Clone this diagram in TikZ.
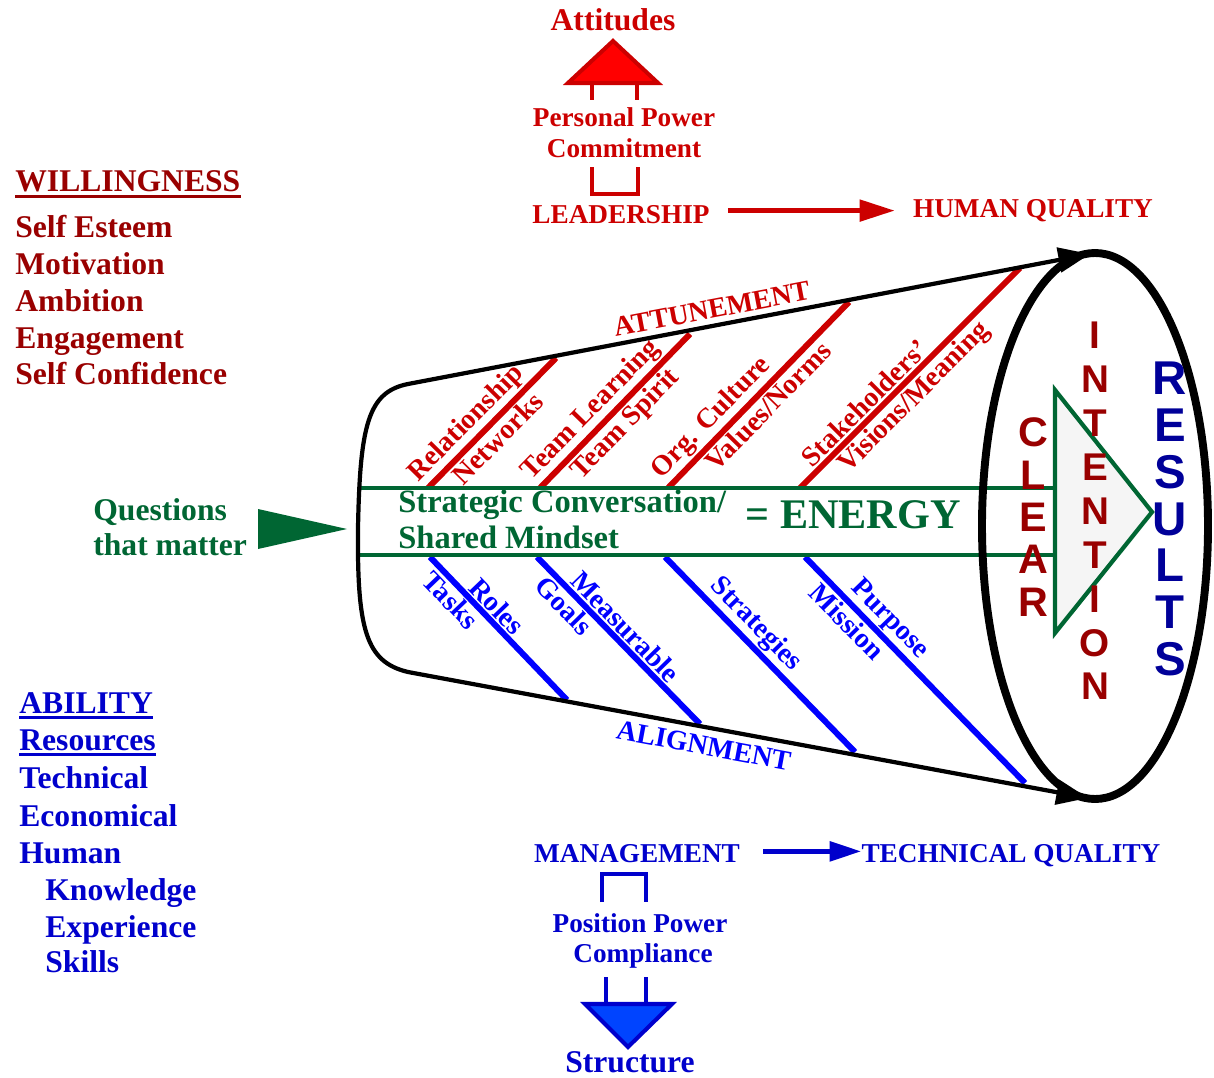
\documentclass[tikz,border=0pt]{standalone}
\usepackage{fontspec}
\setmainfont{Liberation Serif}
\newfontfamily\arialfont{Liberation Sans}
\usetikzlibrary{arrows.meta}
\definecolor{wred}{HTML}{990000}
\definecolor{lred}{HTML}{CC0000}
\definecolor{fred}{HTML}{FF0000}
\definecolor{qgreen}{HTML}{006633}
\definecolor{lblue}{HTML}{0000FF}
\definecolor{mblue}{HTML}{0000CC}
\definecolor{nblue}{HTML}{000099}
\definecolor{sblue}{HTML}{0044FF}
\definecolor{tgray}{HTML}{F5F5F5}
\begin{document}
\begin{tikzpicture}[x=0.02cm, y=-0.02cm,
    txt/.style={font=\bfseries\fontsize{18}{21}\selectfont, inner sep=0pt, anchor=base west},
    ctxt/.style={font=\bfseries\fontsize{18}{21}\selectfont, inner sep=0pt, anchor=base},
    smalltxt/.style={font=\bfseries\fontsize{15.5}{18}\selectfont, inner sep=0pt, anchor=base},
    lbl/.style={font=\bfseries\fontsize{16}{19}\selectfont, inner sep=1pt},
    redbar/.style={lred, line width=3.4pt},
    bluebar/.style={lblue, line width=3.4pt},
    band/.style={qgreen, line width=2.8pt},
    cone/.style={line width=2.4pt, {Triangle[length=18pt,width=14pt]}-{Triangle[length=18pt,width=14pt]}},
    rim/.style={line width=4.5pt},
    stem/.style={line width=2.3pt},
    redarrow/.style={lred, line width=2.8pt, -{Triangle[length=20pt,width=12pt]}},
    bluearrow/.style={mblue, line width=2.8pt, -{Triangle[length=18pt,width=11pt]}}]
\useasboundingbox (0,0) rectangle (1214,1078);

% willingness
\node[txt, wred] (will) at (15,192) {WILLINGNESS};
\draw[wred, line width=1.8pt] ([yshift=-2.5pt]will.base west) -- ([yshift=-2.5pt]will.base east);
\node[txt, wred] (w1) at (15,237) {Self Esteem};
\node[txt, wred] (w2) at (15,274) {Motivation};
\node[txt, wred] (w3) at (15,311) {Ambition};
\node[txt, wred] (w4) at (15,348) {Engagement};
\node[txt, wred] (w5) at (15,384) {Self Confidence};

% ability
\node[txt, mblue] (abil) at (19,713) {ABILITY};
\draw[mblue, line width=1.8pt] ([yshift=-2.5pt]abil.base west) -- ([yshift=-2.5pt]abil.base east);
\node[txt, mblue] (res) at (19,750) {Resources};
\draw[mblue, line width=1.8pt] ([yshift=-2.5pt]res.base west) -- ([yshift=-2.5pt]res.base east);
\node[txt, mblue] (a1) at (19,788) {Technical};
\node[txt, mblue] (a2) at (19,826) {Economical};
\node[txt, mblue] (a3) at (19,863) {Human};
\node[txt, mblue] (a4) at (45,900) {Knowledge};
\node[txt, mblue] (a5) at (45,937) {Experience};
\node[txt, mblue] (a6) at (45,972) {Skills};

% leadership
\node[ctxt, lred] (att) at (613,31) {Attitudes};
\coordinate (ra) at (568,83);
\coordinate (rb) at (613,41);
\coordinate (rc) at (658,83);
\filldraw[fill=fred, draw=lred, line width=2.3pt, line join=miter] (ra) -- (rb) -- (rc) -- cycle;
\draw[stem, lred] (592,83) -- (592,100);
\draw[stem, lred] (637,83) -- (637,100);
\node[smalltxt, lred] (ppow) at (624,127) {Personal Power};
\node[smalltxt, lred] (comm) at (624,157) {Commitment};
\draw[stem, lred] (592,167) -- (592,194) -- (638,194) -- (638,167);
\node[smalltxt, lred] (lead) at (621,223) {LEADERSHIP};
\node[smalltxt, lred] (hq) at (1033,217) {HUMAN QUALITY};
\draw[redarrow] ([xshift=0.36cm, yshift=2pt]lead.east) -- ([xshift=-0.36cm, yshift=2pt]lead.east -| hq.west);

% management
\node[smalltxt, mblue] (mgmt) at (637,862) {MANAGEMENT};
\node[smalltxt, mblue] (tq) at (1011,862) {TECHNICAL QUALITY};
\draw[bluearrow] ([xshift=0.46cm, yshift=1pt]mgmt.east) -- ([yshift=1pt]mgmt.east -| tq.west);
\draw[stem, mblue] (602,902) -- (602,874) -- (646,874) -- (646,902);
\node[smalltxt, mblue] (ppos) at (640,932) {Position Power};
\node[smalltxt, mblue] (compl) at (643,962) {Compliance};
\draw[stem, mblue] (606,977) -- (606,1004);
\draw[stem, mblue] (646,977) -- (646,1004);
\coordinate (ba) at (585,1004);
\coordinate (bb) at (628,1047);
\coordinate (bc) at (672,1004);
\filldraw[fill=sblue, draw=mblue, line width=2.3pt, line join=miter] (ba) -- (bb) -- (bc) -- cycle;
\node[ctxt, mblue] (struct) at (630,1072) {Structure};

% questions
\node[txt, qgreen] (q1) at (93,520) {Questions};
\node[txt, qgreen] (q2) at (93,555) {that matter};
\coordinate (qa) at (258,509);
\coordinate (qtip) at (347,529);
\coordinate (qb) at (258,549);
\fill[qgreen] (qa) -- (qtip) -- (qb) -- cycle;

% red bars
\coordinate (r1a) at (428,488); \coordinate (r1b) at (556,358);
\coordinate (r2a) at (540,488); \coordinate (r2b) at (690,334);
\coordinate (r3a) at (668,488); \coordinate (r3b) at (849,302);
\coordinate (r4a) at (800,488); \coordinate (r4b) at (1020,268);
\draw[redbar] (r1a) -- (r1b) node[lbl, lred, sloped, above, pos=0.40] (rel) {Relationship}
  node[lbl, lred, sloped, below, pos=0.46] (netw) {Networks};
\draw[redbar] (r2a) -- (r2b) node[lbl, lred, sloped, above, pos=0.425] (tlearn) {Team Learning}
  node[lbl, lred, sloped, below, pos=0.49] (tspirit) {Team Spirit};
\draw[redbar] (r3a) -- (r3b) node[lbl, lred, sloped, above, pos=0.31] (orgc) {Org. Culture}
  node[lbl, lred, sloped, below, pos=0.495] (vals) {Values/Norms};
\draw[redbar] (r4a) -- (r4b) node[lbl, lred, sloped, above, pos=0.34] (stake) {Stakeholders'}
  node[lbl, lred, sloped, below, pos=0.465] (vis) {Visions/Meaning};

% blue bars
\coordinate (b1a) at (430,557); \coordinate (b1b) at (567,700);
\coordinate (b2a) at (537,557); \coordinate (b2b) at (700,724);
\coordinate (b3a) at (665,557); \coordinate (b3b) at (855,752);
\coordinate (b4a) at (805,557); \coordinate (b4b) at (1025,783);
\draw[bluebar] (b1a) -- (b1b) node[lbl, lblue, sloped, below, pos=0.23] (tasks) {Tasks}
  node[lbl, lblue, sloped, above, pos=0.415] (roles) {Roles};
\draw[bluebar] (b2a) -- (b2b) node[lbl, lblue, sloped, below, pos=0.23] (goals) {Goals}
  node[lbl, lblue, sloped, above, pos=0.48] (meas) {Measurable};
\draw[bluebar] (b3a) -- (b3b) node[lbl, lblue, sloped, above, pos=0.41] (strat) {Strategies};
\draw[bluebar] (b4a) -- (b4b) node[lbl, lblue, sloped, below, pos=0.24] (miss) {Mission}
  node[lbl, lblue, sloped, above, pos=0.33] (purp) {Purpose};

% energy band
\coordinate (g1l) at (359,488); \coordinate (g1r) at (1055,488);
\coordinate (g2l) at (359,555); \coordinate (g2r) at (1055,555);
\draw[band] (g1l) -- (g1r);
\draw[band] (g2l) -- (g2r);
\node[txt, qgreen, font=\bfseries\fontsize{18.5}{21}\selectfont] (sc1) at (398,512) {Strategic Conversation/};
\node[txt, qgreen, font=\bfseries\fontsize{18.5}{21}\selectfont] (sc2) at (398,548) {Shared Mindset};
\node[ctxt, qgreen, font=\bfseries\fontsize{24}{28}\selectfont] (energy) at (853,528) {= ENERGY};

% cone
\coordinate (ttip) at (1090,254);
\coordinate (tl) at (408,384);
\coordinate (lm) at (358,528);
\coordinate (bl) at (408,672);
\coordinate (btip) at (1088,798);
\draw[cone] (ttip) -- node[lbl, lred, sloped, above=2pt, pos=0.55] (attune) {ATTUNEMENT} (tl)
  .. controls (368,392) and (360,425) .. (lm)
  .. controls (357,630) and (366,662) .. (bl)
  -- node[lbl, lblue, sloped, below=3pt, pos=0.44] (alignm) {ALIGNMENT} (btip);
\draw[rim] (1095,526) ellipse [x radius=113, y radius=273];

% clear intention
\coordinate (ta) at (1055,390);
\coordinate (tc) at (1152,512);
\coordinate (tb) at (1055,633);
\filldraw[fill=tgray, draw=qgreen, line width=2.4pt, line join=miter] (ta) -- (tc) -- (tb) -- cycle;
\node[wred, align=center, inner sep=0pt, font=\arialfont\bfseries\fontsize{23.5}{24.1}\selectfont] (clear) at (1033,517) {C\\L\\E\\A\\R};
\node[wred, align=center, inner sep=0pt, font=\arialfont\bfseries\fontsize{22}{25}\selectfont] (intent) at (1095,511) {I\\N\\T\\E\\N\\T\\I\\O\\N};
\node[nblue, align=center, inner sep=0pt, font=\arialfont\bfseries\fontsize{27}{26.6}\selectfont] (results) at (1170,519) {R\\E\\S\\U\\L\\T\\S};
\end{tikzpicture}
\end{document}
